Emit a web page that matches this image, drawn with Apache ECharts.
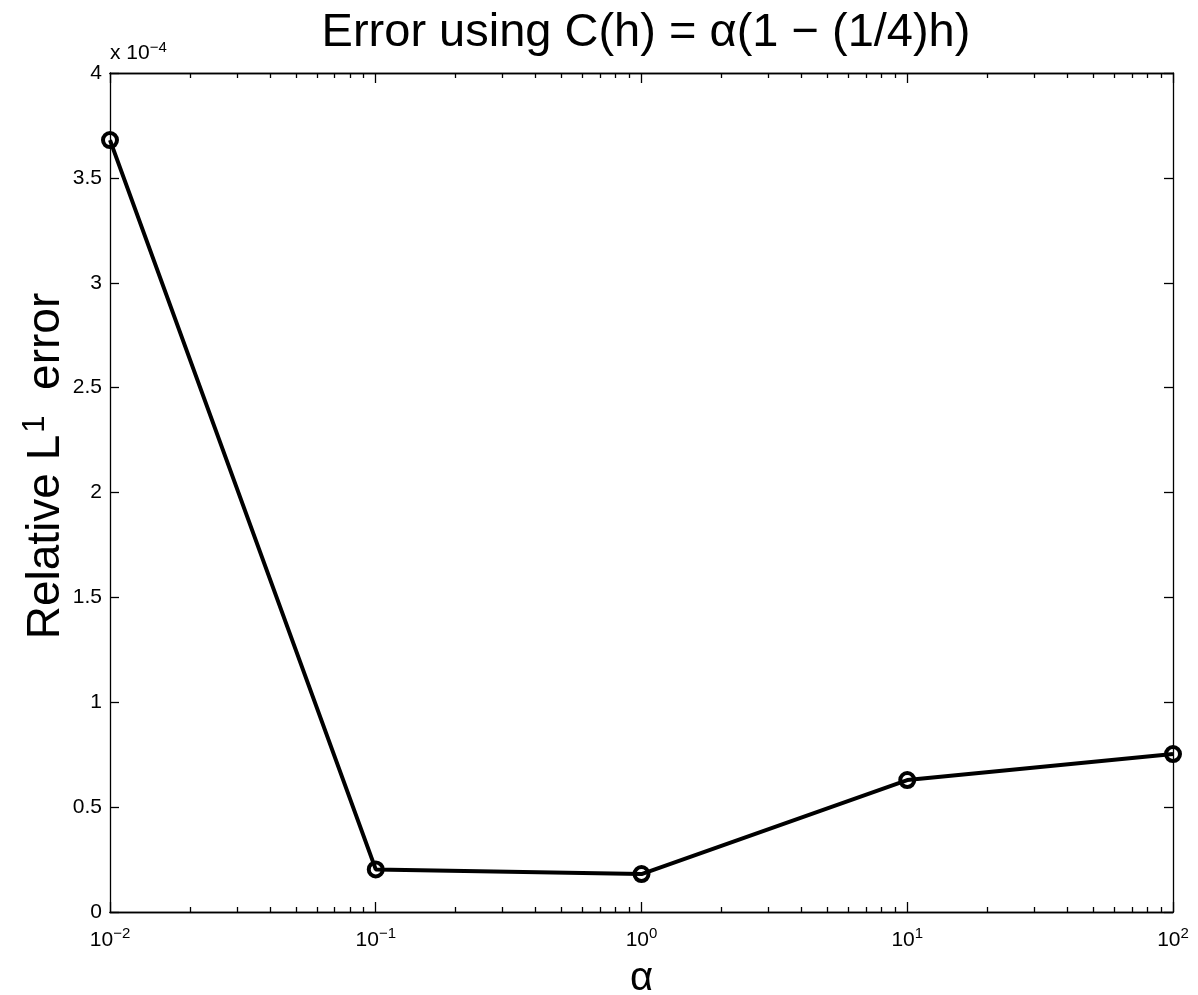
<!DOCTYPE html>
<html>
<head>
<meta charset="utf-8">
<script src="https://cdn.jsdelivr.net/npm/echarts@6/dist/echarts.min.js"></script>
<style>
  html, body { margin: 0; padding: 0; background: #fff; }
  #chart { width: 1198px; height: 995px; }
</style>
</head>
<body>
<div id="chart"></div>
<script>
// alpha values and relative L1 error (in units of 1e-4)
const alphaVals = [0.01, 0.1, 1, 10, 100];
const errVals = [3.68, 0.203, 0.181, 0.629, 0.753];
const decades = [0.01, 0.1, 1, 10, 100];

// minor ticks at 2..9 of each decade
const minorTicks = [];
for (let i = 0; i < decades.length - 1; i++) {
    for (let k = 2; k <= 9; k++) minorTicks.push(k * decades[i]);
}

const font = 'Liberation Sans, Arial, Helvetica, sans-serif';
const black = '#000';

function expLabel(v) {
    const e = Math.round(Math.log10(v));
    return '{b|10}{s|' + String(e).replace('-', '\u2212') + '}';
}

const xBase = {
    type: 'log',
    logBase: 10,
    min: 0.01,
    max: 100,
    axisLine: { show: true, onZero: false, lineStyle: { color: black, width: 1.3 } },
    splitLine: { show: false },
    minorTick: { show: false },
    minorSplitLine: { show: false }
};

const myChart = echarts.init(document.getElementById('chart'));
const option = {
    backgroundColor: '#fff',
    animation: false,
    title: {
        text: 'Error using C(h) = \u03b1(1 \u2212 (1/4)h)',
        left: 641,
        textAlign: 'center',
        top: 5,
        textStyle: { fontFamily: font, fontSize: 47, fontWeight: 'normal', color: black }
    },
    grid: { left: 110, right: 25, top: 73, bottom: 83, outerBoundsMode: 'none', containLabel: false },
    xAxis: [
        Object.assign({}, xBase, {
            position: 'bottom',
            name: '\u03b1',
            nameLocation: 'middle',
            nameGap: 47,
            nameTextStyle: { fontFamily: font, fontSize: 40, color: black },
            axisTick: { show: true, inside: true, length: 10, customValues: decades, lineStyle: { color: black, width: 1.3 } },
            axisLabel: {
                customValues: decades,
                margin: 14,
                formatter: expLabel,
                rich: {
                    b: { fontFamily: font, fontSize: 21, lineHeight: 28, color: black },
                    s: { fontFamily: font, fontSize: 15, color: black, verticalAlign: 'top' }
                }
            }
        }),
        Object.assign({}, xBase, {
            position: 'bottom',
            axisTick: { show: true, inside: true, length: 5, customValues: minorTicks, lineStyle: { color: black, width: 1.3 } },
            axisLabel: { show: false }
        }),
        Object.assign({}, xBase, {
            position: 'top',
            axisTick: { show: true, inside: true, length: 10, customValues: decades, lineStyle: { color: black, width: 1.3 } },
            axisLabel: { show: false }
        }),
        Object.assign({}, xBase, {
            position: 'top',
            axisTick: { show: true, inside: true, length: 5, customValues: minorTicks, lineStyle: { color: black, width: 1.3 } },
            axisLabel: { show: false }
        })
    ],
    yAxis: [
        {
            type: 'value',
            min: 0,
            max: 4,
            interval: 0.5,
            position: 'left',
            axisLine: { show: true, onZero: false, lineStyle: { color: black, width: 1.3 } },
            axisTick: { show: true, inside: true, length: 9, lineStyle: { color: black, width: 1.3 } },
            axisLabel: { fontFamily: font, fontSize: 21, color: black, margin: 8 },
            splitLine: { show: false }
        },
        {
            type: 'value',
            min: 0,
            max: 4,
            interval: 0.5,
            position: 'right',
            axisLine: { show: true, onZero: false, lineStyle: { color: black, width: 1.3 } },
            axisTick: { show: true, inside: true, length: 9, lineStyle: { color: black, width: 1.3 } },
            axisLabel: { show: false },
            splitLine: { show: false }
        }
    ],
    graphic: [
        {
            type: 'text',
            left: 110,
            top: 40,
            style: {
                text: '{b|x 10}{s|\u22124}',
                rich: {
                    b: { fontFamily: font, fontSize: 21, lineHeight: 26, fill: black },
                    s: { fontFamily: font, fontSize: 15, fill: black, verticalAlign: 'top' }
                }
            }
        },
        {
            // y axis title, rotated
            type: 'text',
            x: 46,
            y: 466,
            rotation: Math.PI / 2,
            style: {
                text: '{t|Relative L}{s|1}{t|  error}',
                align: 'center',
                verticalAlign: 'middle',
                rich: {
                    t: { fontFamily: font, fontSize: 46, lineHeight: 52, fill: black },
                    s: { fontFamily: font, fontSize: 31, fill: black, verticalAlign: 'top', padding: [0, 0, 0, 2] }
                }
            }
        }
    ],
    series: [
        {
            type: 'line',
            xAxisIndex: 0,
            yAxisIndex: 0,
            data: alphaVals.map((a, i) => [a, errVals[i]]),
            symbol: 'circle',
            symbolSize: 14,
            showAllSymbol: true,
            lineStyle: { color: black, width: 4 },
            itemStyle: { color: 'rgba(0,0,0,0)', borderColor: black, borderWidth: 4 },
            clip: false,
            z: 5
        }
    ]
};
myChart.setOption(option);
</script>
</body>
</html>
